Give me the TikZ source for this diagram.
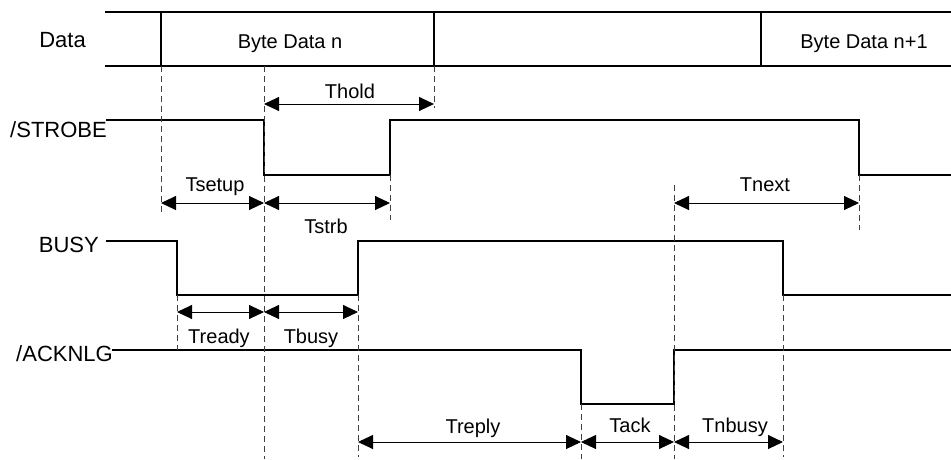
\documentclass[tikz,border=0pt]{standalone}
\usepackage{fontspec}
\setmainfont{Liberation Sans}
\usetikzlibrary{arrows.meta}
\tikzstyle{signal} = [line width=2.8pt, line join=miter]
\tikzstyle{guide} = [line width=0.8pt, dash pattern=on 6pt off 4pt, black!75]
\tikzstyle{dimline} = [line width=0.9pt, {Triangle[length=15pt,width=14pt]}-{Triangle[length=15pt,width=14pt]}]
\tikzstyle{signame} = [font=\fontsize{22}{26}\selectfont, inner sep=0pt, anchor=base east]
\tikzstyle{tlabel} = [font=\fontsize{20}{24}\selectfont, inner sep=0pt, anchor=base]

\begin{document}
\begin{tikzpicture}[x=1pt,y=-1pt]
\useasboundingbox (0,0) rectangle (951,459);

% Define the signal names
\node (data) [signame] at (86,47) {Data};
\node (strobe) [signame] at (107,137) {/STROBE};
\node (busy) [signame] at (99,252) {BUSY};
\node (ack) [signame] at (113,361) {/ACKNLG};

% Draw the waveforms
\draw [signal] (105,12) -- (951,12);
\draw [signal] (105,66) -- (951,66);
\draw [signal] (161,12) -- (161,66);
\draw [signal] (434,12) -- (434,66);
\draw [signal] (761,12) -- (761,66);
\node (byten) [tlabel] at (290,48) {Byte Data n};
\node (bytenext) [tlabel] at (864,48) {Byte Data n+1};
\draw [signal] (106,120) -- (264,120) -- (264,175) -- (390,175) -- (390,120) -- (859,120) -- (859,175) -- (951,175);
\draw [signal] (106,241) -- (177,241) -- (177,295) -- (358,295) -- (358,241) -- (783,241) -- (783,295) -- (951,295);
\draw [signal] (112,350) -- (581,350) -- (581,404) -- (674,404) -- (674,350) -- (951,350);

% Define the timing marks
\coordinate (a1) at (161,203);
\coordinate (a2) at (264,203);
\coordinate (a3) at (390,203);
\coordinate (h1) at (264,104);
\coordinate (h2) at (434,104);
\coordinate (n1) at (674,203);
\coordinate (n2) at (859,203);
\coordinate (b1) at (177,312);
\coordinate (b2) at (264,312);
\coordinate (b3) at (358,312);
\coordinate (c1) at (358,442);
\coordinate (c2) at (581,442);
\coordinate (c3) at (674,442);
\coordinate (c4) at (783,442);

% Draw the guide lines
\draw [guide] (161,66) -- (161,212);
\draw [guide] (264,66) -- (264,459);
\draw [guide] (434,66) -- (434,108);
\draw [guide] (390,175) -- (390,220);
\draw [guide] (859,175) -- (859,230);
\draw [guide] (177,295) -- (177,350);
\draw [guide] (358,295) -- (358,457);
\draw [guide] (783,295) -- (783,457);
\draw [guide] (674,185) -- (674,459);
\draw [guide] (581,404) -- (581,459);

% Draw the timing arrows
\draw [dimline] (h1) -- (h2);
\draw [dimline] (a1) -- (a2);
\draw [dimline] (a2) -- (a3);
\draw [dimline] (n1) -- (n2);
\draw [dimline] (b1) -- (b2);
\draw [dimline] (b2) -- (b3);
\draw [dimline] (c1) -- (c2);
\draw [dimline] (c2) -- (c3);
\draw [dimline] (c3) -- (c4);
\node (thold) [tlabel] at (350,98) {Thold};
\node (tsetup) [tlabel] at (215,191) {Tsetup};
\node (tstrb) [tlabel] at (326,233) {Tstrb};
\node (tnext) [tlabel] at (765,191) {Tnext};
\node (tready) [tlabel] at (219,343) {Tready};
\node (tbusy) [tlabel] at (311,343) {Tbusy};
\node (treply) [tlabel] at (473,433) {Treply};
\node (tack) [tlabel] at (630,432) {Tack};
\node (tnbusy) [tlabel] at (735,432) {Tnbusy};

\end{tikzpicture}
\end{document}
